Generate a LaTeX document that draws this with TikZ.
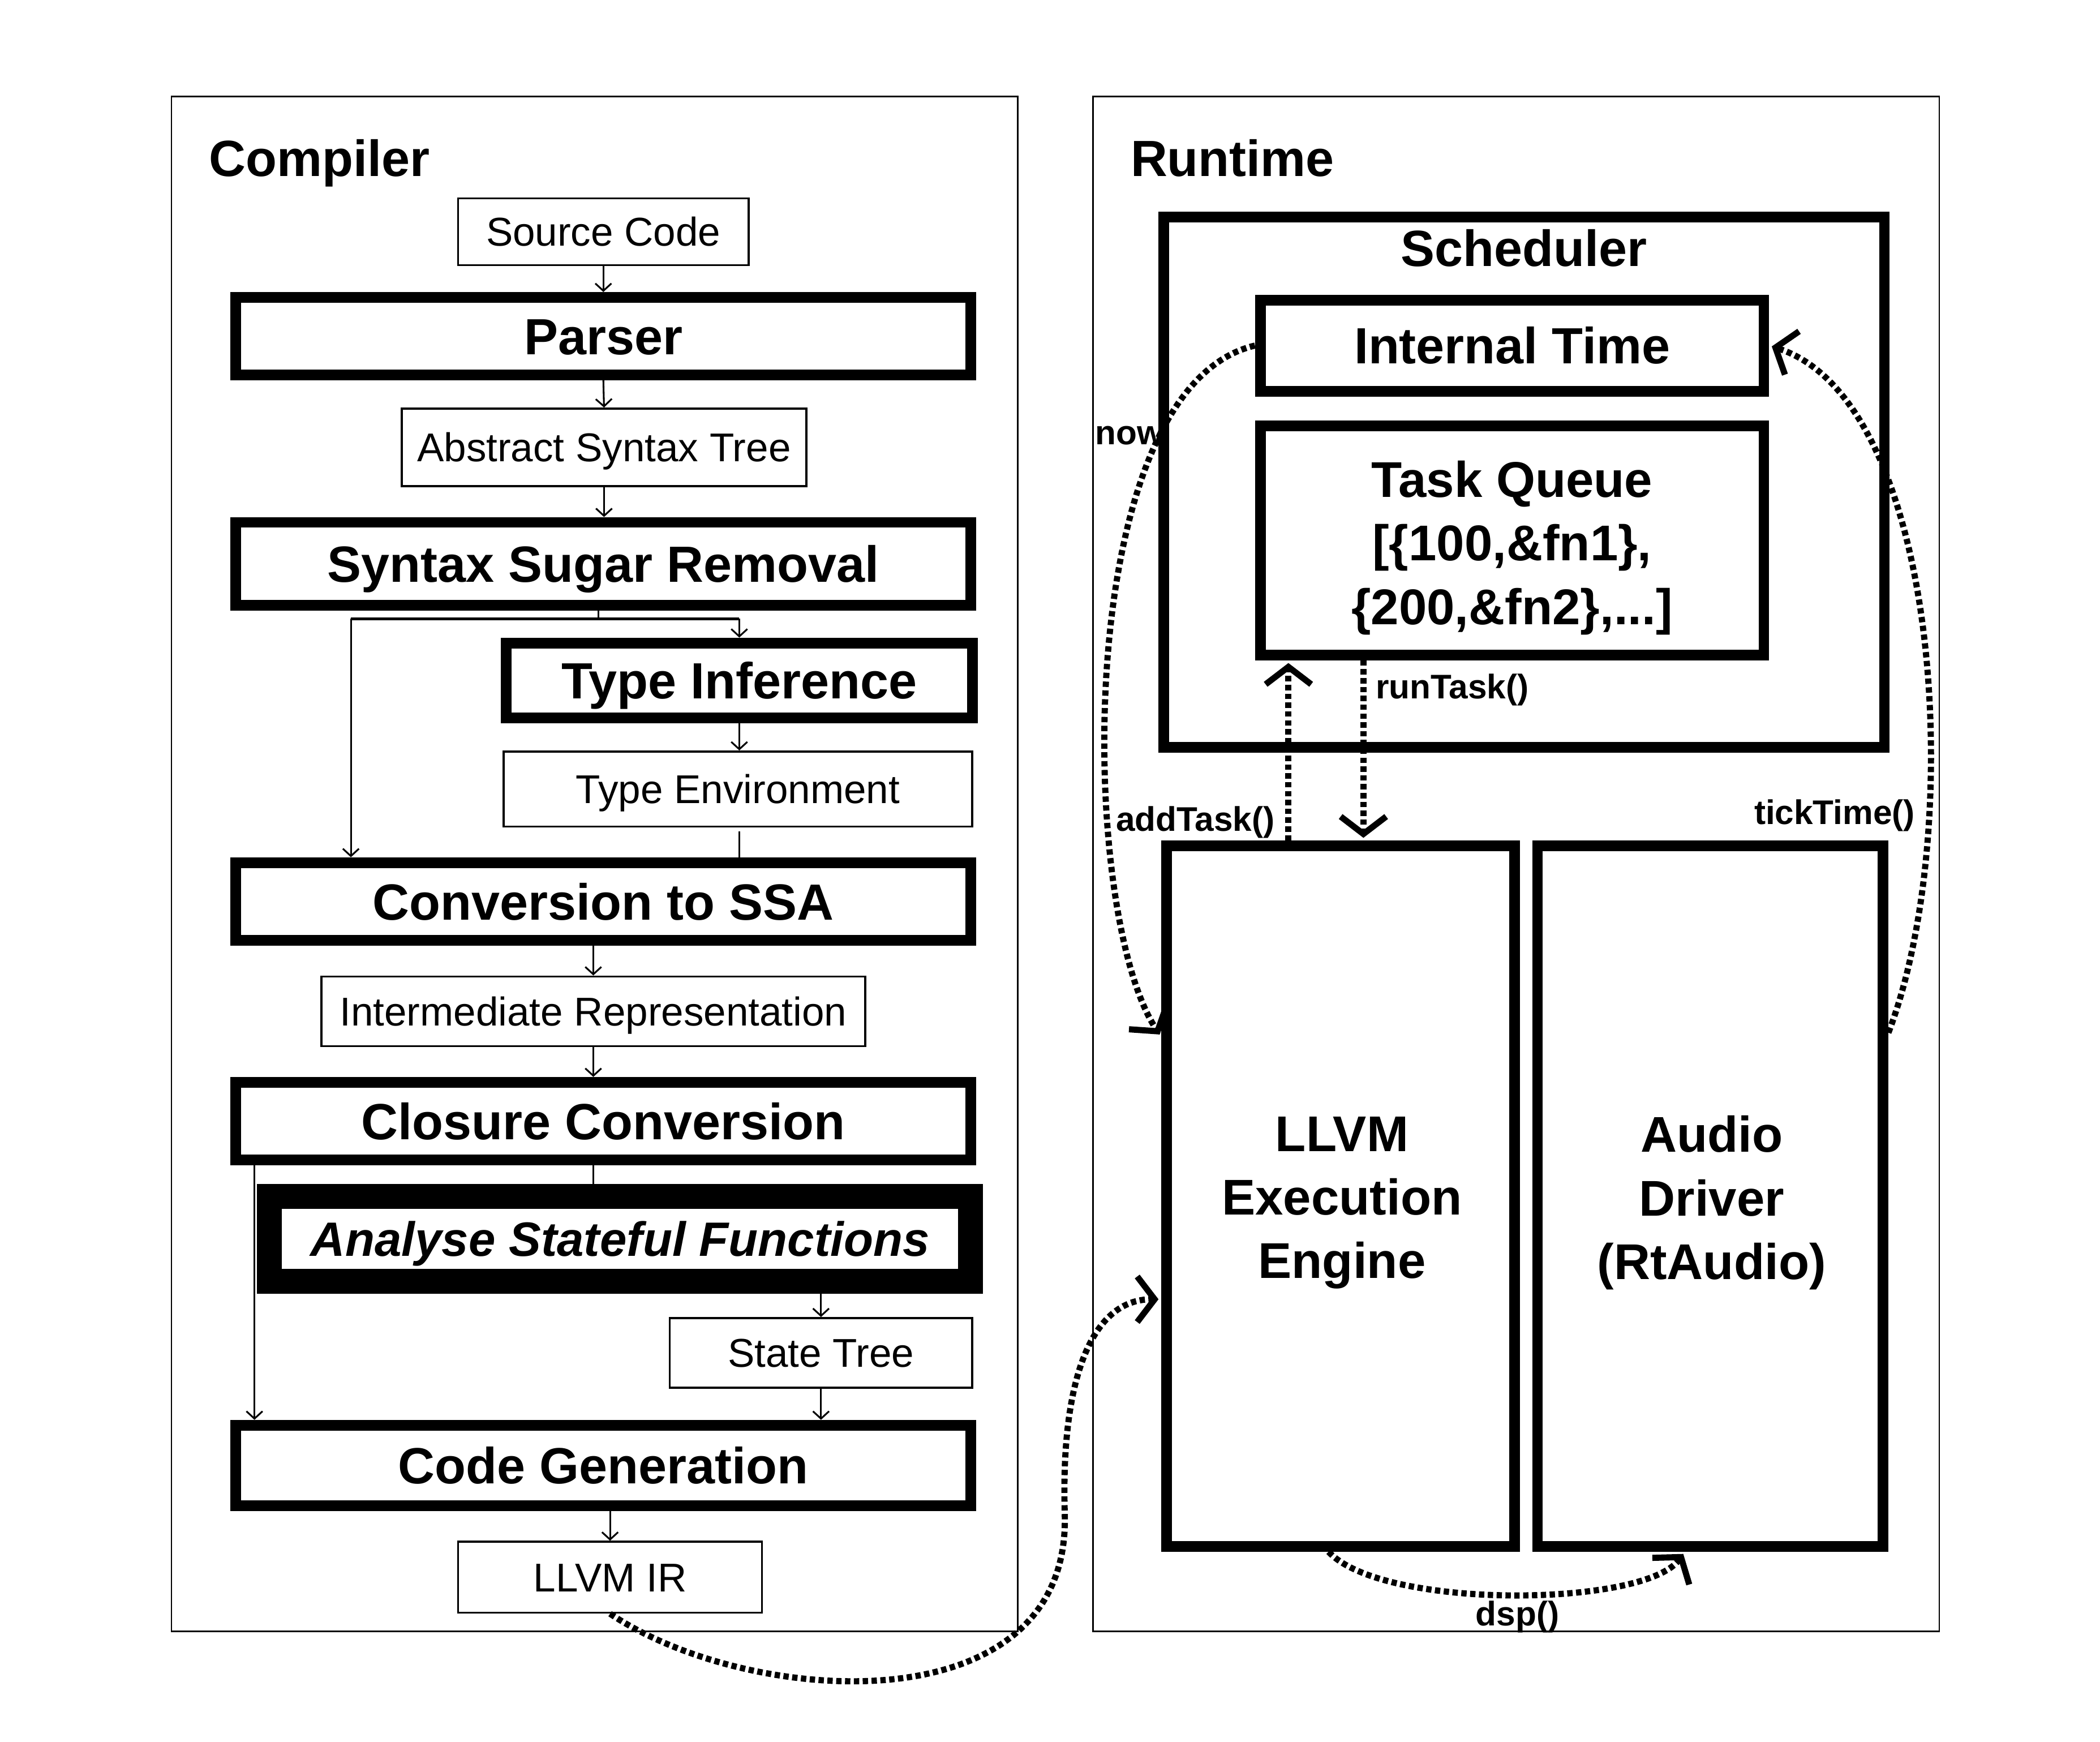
\documentclass[tikz,border=0pt]{standalone}
\usepackage{fontspec}
\setmainfont{Liberation Sans}
\usetikzlibrary{arrows.meta,calc}
\newcommand\myBig{\fontsize{38}{46}\selectfont\bfseries}
\newcommand\myIt{\fontsize{36}{44}\selectfont\bfseries\itshape}
\newcommand\myMid{\fontsize{30}{36}\selectfont}
\newcommand\myLab{\fontsize{25.5}{30}\selectfont\bfseries}
\newcommand\myRt{\fontsize{37.5}{47.5}\selectfont\bfseries}
\begin{document}
\begin{tikzpicture}[x=1pt,y=-1pt,
  outerbox/.style={draw, line width=1.2pt, inner sep=0pt},
  thinbox/.style={draw, line width=1.5pt, inner sep=0pt, font=\myMid, text height=21.5pt, text depth=0pt},
  thickbox/.style={draw, line width=8pt, inner sep=0pt, font=\myBig, text height=27.2pt, text depth=0pt},
  rtbox/.style={draw, line width=8pt, inner sep=0pt},
  rtxt/.style={font=\myRt, align=center, inner sep=0pt},
  ttl/.style={font=\myBig, anchor=base west, inner sep=0pt},
  lab/.style={font=\myLab, inner sep=0pt},
  flow/.style={line width=1.3pt, -{Straight Barb[length=5.5pt,width=12pt]}},
  flowline/.style={line width=1.3pt},
  dotline/.style={line width=4.6pt, dash pattern=on 4pt off 2.6pt, -{Straight Barb[length=13pt,width=34pt]}, shorten >=2pt},
]
\useasboundingbox (0,0) rectangle (1568,1300.5);

% outer frames
\node[outerbox, minimum width=632pt, minimum height=1146pt] (compbox) at (444,645) {};
\node[outerbox, minimum width=632pt, minimum height=1146pt] (rtframe) at (1132,645) {};
\node[ttl] (comptitle) at (156,131.5) {Compiler};
\node[ttl] (rttitle) at (844,131.5) {Runtime};

% compiler pipeline
\node[thinbox, minimum width=217pt, minimum height=50pt] (src) at (450.5,173) {Source Code};
\node[thickbox, minimum width=549pt, minimum height=58pt] (parser) at (450.5,251) {Parser};
\node[thinbox, minimum width=302pt, minimum height=58pt] (ast) at (451,334) {Abstract Syntax Tree};
\node[thickbox, minimum width=549pt, minimum height=62pt] (ssr) at (450.5,421) {Syntax Sugar Removal};
\node[thickbox, minimum width=348pt, minimum height=56pt] (ti) at (552,508) {Type Inference};
\node[thinbox, minimum width=350pt, minimum height=56pt] (tenv) at (551,589) {Type Environment};
\node[thickbox, minimum width=549pt, minimum height=58pt] (ssa) at (450.5,673) {Conversion to SSA};
\node[thinbox, minimum width=406pt, minimum height=52pt] (ir) at (443,755) {Intermediate Representation};
\node[thickbox, minimum width=549pt, minimum height=58pt] (cc) at (450.5,837) {Closure Conversion};
\node[draw, line width=18.5pt, inner sep=0pt, font=\myIt, text height=25.8pt, text depth=0pt,
      minimum width=523.5pt, minimum height=63.5pt] (asf) at (463,925) {Analyse Stateful Functions};
\node[thinbox, minimum width=226pt, minimum height=52pt] (st) at (613,1010) {State Tree};
\node[thickbox, minimum width=549pt, minimum height=60pt] (cg) at (450.5,1094) {Code Generation};
\node[thinbox, minimum width=227pt, minimum height=53pt] (llir) at (455.5,1177.5) {LLVM IR};

% compiler connectors
\draw[flow] (src.south) -- (parser.north);
\draw[flow] (parser.south) -- (ast.north);
\draw[flow] (ast.north |- ast.south) -- (ast.north |- ssr.north);
\coordinate (splitA) at (447,462);
\coordinate (splitL) at (262,462);
\coordinate (splitR) at (552,462);
\draw[flowline] (splitA |- ssr.south) -- (splitA);
\draw[line width=2.2pt] (splitL) -- (splitR);
\draw[flow] (splitR) -- (ti.north);
\draw[flow] (splitL) -- (splitL |- ssa.north);
\draw[flow] (ti.south) -- (ti.south |- tenv.north);
\draw[flowline] ([yshift=-3pt]tenv.south -| ti.south) -- (ti.south |- ssa.north);
\draw[flow] (ir.north |- ssa.south) -- (ir.north);
\draw[flow] (ir.south) -- (ir.south |- cc.north);
\draw[flowline] (ir.south |- cc.south) -- (ir.south |- asf.north);
\coordinate (ccleft) at (190,870);
\draw[flow] (ccleft |- cc.south) -- (ccleft |- cg.north);
\draw[flow] (st.north |- asf.south) -- (st.north);
\draw[flow] (st.south) -- (st.south |- cg.north);
\draw[flow] (llir.north |- cg.south) -- (llir.north);

% runtime
\node[rtbox, minimum width=538pt, minimum height=396pt] (sched) at (1138,360) {};
\node[font=\myBig, anchor=base, inner sep=0pt] (schedtitle) at (1138,199) {Scheduler};
\node[rtbox, font=\myBig, text height=27.2pt, text depth=0pt, minimum width=376pt, minimum height=68pt] (itime) at (1129,258) {Internal Time};
\node[rtbox, minimum width=376pt, minimum height=171pt] (tq) at (1129,403.5) {};
\node[rtxt] (tqtxt) at (1129,409) {Task Queue\\{}[\{100,\&fn1\},\\\{200,\&fn2\},...]};
\node[rtbox, minimum width=260pt, minimum height=523pt] (llvm) at (1001,893) {};
\node[rtxt] (llvmtxt) at (1002,898) {LLVM\\Execution\\Engine};
\node[rtbox, minimum width=258pt, minimum height=523pt] (audio) at (1277,893) {};
\node[rtxt] (audiotxt) at (1278,898) {Audio\\Driver\\(RtAudio)};

% runtime connectors
\draw[dotline] (itime.west) .. controls (800,290) and (805,680) .. ([yshift=119pt]llvm.west);
\node[lab, anchor=east] (nowlab) at (869,325) {now};
\draw[dotline] ([yshift=122pt]audio.east) .. controls (1468,620) and (1450,300) .. (itime.east);
\node[lab, anchor=east] (ticklab) at (1430,609) {tickTime()};
\draw[dotline] ([xshift=-39pt]llvm.north) -- ([xshift=-39pt]llvm.north |- tq.south);
\node[lab, anchor=east] (addlab) at (952,614) {addTask()};
\draw[dotline] ([xshift=-111pt]tq.south) -- ([xshift=-111pt]tq.south |- llvm.north);
\node[lab, anchor=west] (runlab) at (1027,515) {runTask()};
\draw[dotline] ([xshift=-9pt]llvm.south) .. controls (1032,1202) and (1228,1200) .. ([xshift=-19pt]audio.south);
\node[lab] (dsplab) at (1133,1207) {dsp()};
\draw[dotline] (llir.south) .. controls (560,1275) and (800,1290) .. (795,1130)
   .. controls (792,1030) and (815,970) .. ([yshift=-77pt]llvm.west);
\end{tikzpicture}
\end{document}
